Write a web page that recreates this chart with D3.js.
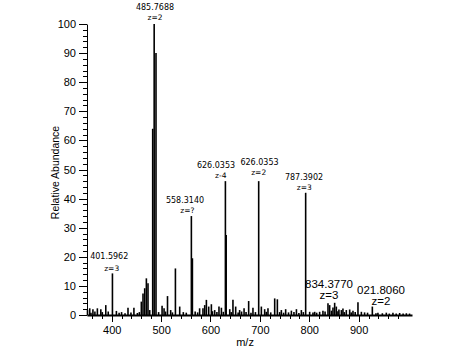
<!DOCTYPE html>
<html>
<head>
<meta charset="utf-8">
<script src="https://cdn.jsdelivr.net/npm/d3@7"></script>
<style>
  body { margin: 0; background: #fff; }
  svg { display: block; }
</style>
</head>
<body>
<script>
// peaks (m/z, relative abundance)
const peakMz = [351, 355.5, 358, 362, 366, 371, 378, 381, 388, 393, 401.5, 409.5, 415, 420, 427, 433, 439, 445, 452, 456,
  460, 463.4, 466.8, 470.2, 473.5, 477, 483, 486, 489.7, 495, 502, 506, 509, 513, 519.4, 523, 529, 537.7, 545, 551,
  561.3, 563.4, 569, 574, 578, 584.8, 588.3, 591.7, 596.4, 601.8, 604, 608.5, 613, 617.2, 622.1, 626, 630.2, 631.8,
  639, 642, 645.5, 651, 656, 659, 663, 668, 672, 677.3, 682, 686, 691, 697.6, 703, 709.7, 713, 716.4, 722, 730,
  735.4, 740, 743.5, 748, 752.2, 758, 763.8, 769, 774, 779, 784, 788, 792.7, 800.8, 807.5, 811, 815, 821, 827.7,
  832, 837.9, 841.3, 845, 848, 851.4, 854.8, 858, 860.1, 865, 868.2, 871, 875, 881.8, 885, 888.5, 893, 898.6,
  905.5, 912, 918, 927.7, 935, 939, 948, 956, 962, 969.4, 976, 983, 990, 996.6, 1003];
const peakAbundance = [1.7, 2.3, 0.8, 2.0, 1.2, 2.3, 2.0, 1.0, 3.4, 1.2, 14.3, 1.4, 0.8, 1.0, 0.6, 2.5, 0.9, 2.5, 0.7, 1.0,
  4.6, 7.4, 9.2, 12.6, 10.9, 1.7, 64, 100, 90, 1.0, 3.2, 2.3, 1.2, 6.5, 1.7, 0.9, 16, 2.9, 1.0, 0.8,
  34, 19.5, 1.2, 0.9, 2.3, 2.3, 3.4, 5.2, 2.9, 3.7, 1.3, 1.7, 1.0, 2.9, 2.5, 1.1, 46, 27.5,
  2.0, 1.0, 5.2, 2.9, 0.9, 1.7, 1.2, 2.3, 1.0, 4.8, 0.8, 2.5, 1.0, 46, 2.9, 2.0, 1.1, 2.3, 0.9, 5.7,
  5.4, 1.0, 1.7, 0.8, 2.0, 0.9, 1.5, 1.0, 2.0, 0.7, 1.7, 1.0, 42, 1.1, 0.9, 1.1, 0.8, 1.1, 1.5,
  1.2, 4.0, 3.4, 1.5, 2.6, 4.2, 2.9, 1.3, 1.9, 1.7, 2.2, 1.0, 1.7, 1.9, 0.9, 1.5, 1.0, 4.4,
  1.1, 0.9, 0.8, 2.9, 0.6, 0.8, 0.6, 0.8, 0.5, 0.8, 0.5, 0.7, 0.5, 0.6, 0.5];

// annotations: mass label, charge label, anchor m/z, anchor level of each line
const labelMass = ['485.7688', '401.5962', '558.3140', '626.0353', '626.0353', '787.3902', '834.3770', '021.8060'];
const labelCharge = ['z=2', 'z=3', 'z=?', 'z-4', 'z=2', 'z=3', 'z=3', 'z=2'];
const labelMz = [487.7, 395, 548.4, 611.2, 699.3, 789.4, 840, 945.3];
const chargeMz = [487.7, 400, 553.1, 620.7, 697.6, 790, 840, 945.3];
const massLevel = [104.8, 19.2, 38.5, 50.5, 51.7, 46.4, 9.3, 7.2];
const chargeLevel = [101.4, 15.1, 35.1, 47.1, 48.1, 43, 5.5, 3.3];
const bigLabel = [false, false, false, false, false, false, true, true];

const yMajor = [0, 10, 20, 30, 40, 50, 60, 70, 80, 90, 100];
const xMajor = [400, 500, 600, 700, 800, 900];

const width = 472;
const height = 349;

const svg = d3.select('body')
  .append('svg')
  .attr('width', width)
  .attr('height', height);

const x = d3.scaleLinear().domain([350, 1008]).range([87, 412]);
const y = d3.scaleLinear().domain([0, 100]).range([315, 24]);

const yMinor = d3.range(0, 101, 2).filter(v => v % 10 !== 0);
const xMinor = d3.range(360, 1001, 20).filter(v => v % 100 !== 0);

// peaks
svg.append('g')
  .selectAll('line')
  .data(peakMz)
  .enter()
  .append('line')
  .attr('x1', d => x(d))
  .attr('x2', d => x(d))
  .attr('y1', y(0))
  .attr('y2', (d, i) => y(peakAbundance[i]))
  .attr('stroke', '#000')
  .attr('stroke-width', 1.6);

// y axis
svg.append('g')
  .attr('transform', 'translate(' + x(350) + ',0)')
  .call(d3.axisLeft(y).tickValues(yMinor).tickSize(4).tickFormat(''))
  .call(g => g.select('.domain').remove());

svg.append('g')
  .attr('transform', 'translate(' + x(350) + ',0)')
  .call(d3.axisLeft(y).tickValues(yMajor).tickSize(8).tickPadding(3).tickSizeOuter(0))
  .call(g => g.selectAll('text').style('font-family', 'Liberation Sans, Arial, sans-serif').style('font-size', '11px'));

// x axis
svg.append('g')
  .attr('transform', 'translate(0,' + y(0) + ')')
  .call(d3.axisBottom(x).tickValues(xMinor).tickSize(4).tickFormat(''))
  .call(g => g.select('.domain').remove());

svg.append('g')
  .attr('transform', 'translate(0,' + y(0) + ')')
  .call(d3.axisBottom(x).tickValues(xMajor).tickSize(7).tickPadding(4).tickSizeOuter(0))
  .call(g => g.select('.domain').attr('stroke-width', 2))
  .call(g => g.selectAll('text').style('font-family', 'Liberation Sans, Arial, sans-serif').style('font-size', '11px'));

svg.selectAll('.tick line').attr('shape-rendering', 'crispEdges');

// axis titles
svg.append('text')
  .attr('transform', 'translate(59,' + 172.5 + ') rotate(-90)')
  .attr('text-anchor', 'middle')
  .style('font-family', 'Liberation Sans, Arial, sans-serif')
  .style('font-size', '10.5px')
  .text('Relative Abundance');

svg.append('text')
  .attr('x', x(670))
  .attr('y', 346)
  .attr('text-anchor', 'middle')
  .style('font-family', 'Liberation Sans, Arial, sans-serif')
  .style('font-size', '11px')
  .text('m/z');

// peak annotations
const notes = svg.append('g');
labelMass.forEach((m, i) => {
  notes.append('text')
    .attr('x', x(labelMz[i]))
    .attr('y', y(massLevel[i]))
    .attr('text-anchor', 'middle')
    .style('font-family', bigLabel[i] ? 'Liberation Sans, Arial, sans-serif' : 'DejaVu Sans, sans-serif')
    .style('font-size', bigLabel[i] ? '11.5px' : '8px')
    .text(m);
  notes.append('text')
    .attr('x', x(chargeMz[i]))
    .attr('y', y(chargeLevel[i]))
    .attr('text-anchor', 'middle')
    .style('font-family', bigLabel[i] ? 'Liberation Sans, Arial, sans-serif' : 'DejaVu Sans, sans-serif')
    .style('font-size', bigLabel[i] ? '11.5px' : '7.5px')
    .text(labelCharge[i]);
});
</script>
</body>
</html>
